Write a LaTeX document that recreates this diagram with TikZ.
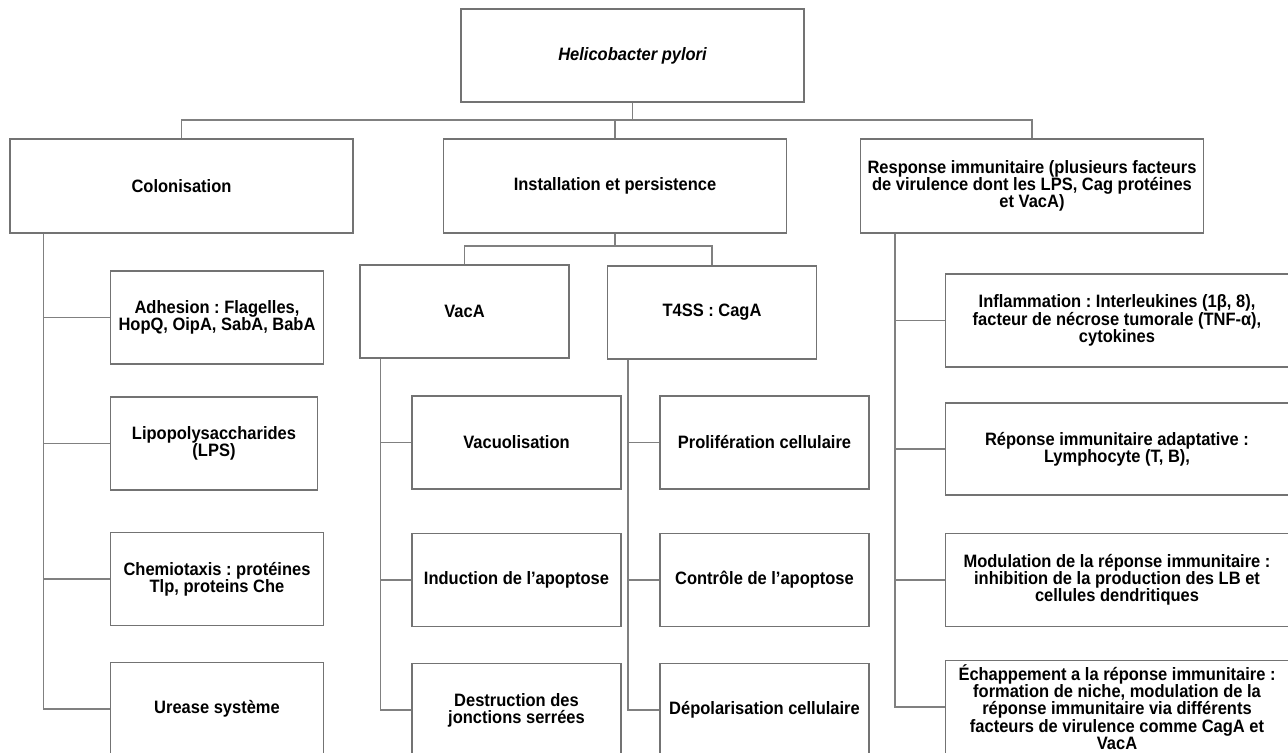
\documentclass[tikz,border=0pt]{standalone}
\usepackage{fontspec}
\setmainfont{Liberation Sans}[FakeStretch=0.92]
\usetikzlibrary{positioning}
\frenchspacing
\tikzset{
    box/.style = {rectangle, draw=black!55, line width=0.7pt, align=center, inner sep=1pt,
                  minimum width=4.18cm, minimum height=1.86cm,
                  font=\fontsize{10.2}{9.8}\selectfont\bfseries},
    bigbox/.style = {box, minimum width=6.86cm, minimum height=1.88cm},
    link/.style = {draw=black!50, line width=0.7pt},
}

\begin{document}
\begin{tikzpicture}[x=0.02cm,y=-0.02cm]
\fill[white] (0,0) rectangle (1288,752);
\clip (0,0) rectangle (1288,752);
% top
\node[bigbox, minimum height=1.86cm] at (632.5, 55.5) (hp) {\itshape Helicobacter pylori};
%
\node[bigbox] at (181.5, 186) (colo) {Colonisation};
\node[bigbox] at (615, 186) (inst) {Installation et persistence};
\node[bigbox] at (1032, 186) (resp) {Response immunitaire (plusieurs facteurs\\de virulence dont les LPS, Cag protéines\\et VacA)};
%
\coordinate (bus1) at (632.5, 120);
\draw[link] (hp) -- (bus1);
\draw[link] (bus1) -| (colo);
\draw[link] (bus1) -| (inst);
\draw[link] (bus1) -| (resp);
% colonisation
\node[box, minimum width=4.26cm] at (217, 317.5) (adh) {Adhesion : Flagelles,\\HopQ, OipA, SabA, BabA};
\node[box, minimum width=4.15cm] at (214, 443.5) (lps) {Lipopolysaccharides\\(LPS)};
\node[box, minimum width=4.26cm] at (217, 579) (chemo) {Chemiotaxis : protéines\\Tlp, proteins Che};
\node[box, minimum width=4.26cm] at (217, 709) (urease) {Urease système};
%
\draw[link] ([xshift=0.68cm]colo.south west) |- (adh);
\draw[link] ([xshift=0.68cm]colo.south west) |- (lps);
\draw[link] ([xshift=0.68cm]colo.south west) |- (chemo);
\draw[link] ([xshift=0.68cm]colo.south west) |- (urease);
% installation
\node[box] at (464.5, 311.5) (vaca) {VacA};
\node[box] at (712, 312.5) (t4ss) {T4SS : CagA};
%
\coordinate (bus2) at (615, 246);
\draw[link] (inst) -- (bus2);
\draw[link] (bus2) -| (vaca);
\draw[link] (bus2) -| (t4ss);
%
\node[box] at (516.5, 442.5) (vacuo) {Vacuolisation};
\node[box] at (516.5, 580) (induc) {Induction de l’apoptose};
\node[box] at (516.5, 710) (destr) {Destruction des\\jonctions serrées};
%
\draw[link] ([xshift=0.42cm]vaca.south west) |- (vacuo);
\draw[link] ([xshift=0.42cm]vaca.south west) |- (induc);
\draw[link] ([xshift=0.42cm]vaca.south west) |- (destr);
%
\node[box] at (764.5, 442.5) (prolif) {Prolifération cellulaire};
\node[box] at (764.5, 580) (ctrl) {Contrôle de l’apoptose};
\node[box] at (764.5, 710) (depol) {Dépolarisation cellulaire};
%
\draw[link] ([xshift=0.42cm]t4ss.south west) |- (prolif);
\draw[link] ([xshift=0.42cm]t4ss.south west) |- (ctrl);
\draw[link] ([xshift=0.42cm]t4ss.south west) |- (depol);
% reponse immunitaire
\node[bigbox, minimum height=1.86cm] at (1117, 320.5) (infl) {Inflammation : Interleukines (1β, 8),\\facteur de nécrose tumorale (TNF-α),\\cytokines};
\node[bigbox, minimum height=1.84cm] at (1117, 449) (adapt) {Réponse immunitaire adaptative :\\Lymphocyte (T, B),};
\node[bigbox, minimum height=1.86cm] at (1117, 580) (modul) {Modulation de la réponse immunitaire :\\inhibition de la production des LB et\\cellules dendritiques};
\node[bigbox, minimum height=1.86cm] at (1117, 707) (echap) {Échappement a la réponse immunitaire :\\formation de niche, modulation de la\\réponse immunitaire via différents\\facteurs de virulence comme CagA et\\VacA};
%
\draw[link] ([xshift=0.7cm]resp.south west) |- (infl);
\draw[link] ([xshift=0.7cm]resp.south west) |- (adapt);
\draw[link] ([xshift=0.7cm]resp.south west) |- (modul);
\draw[link] ([xshift=0.7cm]resp.south west) |- (echap);
\end{tikzpicture}
\end{document}
